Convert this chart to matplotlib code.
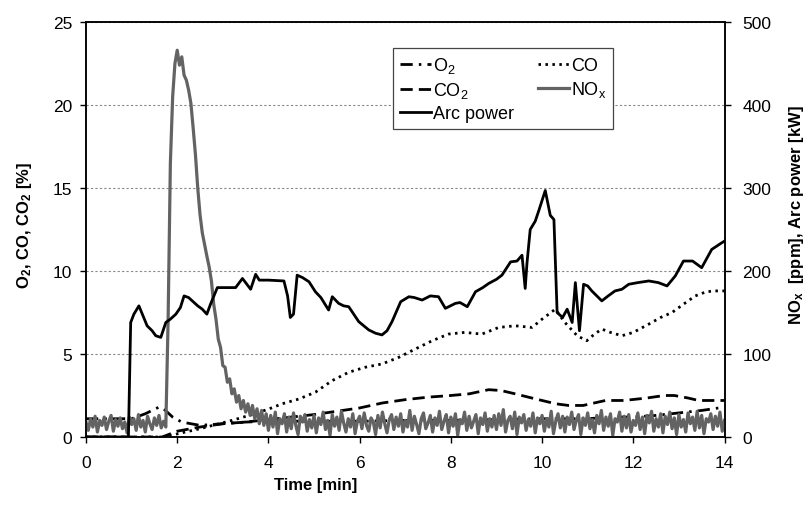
import matplotlib
matplotlib.use('Agg')
import matplotlib.pyplot as plt
import numpy as np

plt.rcParams['font.family'] = ['Liberation Sans', 'DejaVu Sans']
plt.rcParams['mathtext.fontset'] = 'custom'
plt.rcParams['mathtext.rm'] = 'Liberation Sans'
plt.rcParams['mathtext.bf'] = 'Liberation Sans:bold'
plt.rcParams['mathtext.default'] = 'rm'

# --- data ---
# O2, CO, CO2 in % (left axis)
o2_t = [0.0, 0.5, 1.0, 1.3, 1.6, 1.7, 1.9, 2.1, 2.5, 3.0, 3.5, 4.0, 5.0, 6.0,
        7.0, 8.0, 9.0, 10.0, 10.5, 11.0, 11.5, 12.0, 12.5, 13.0, 13.5, 14.0]
o2 = [1.1, 1.1, 1.1, 1.4, 1.8, 1.7, 1.2, 0.9, 0.7, 0.8, 0.9, 0.95, 0.95, 0.95,
      1.0, 1.0, 1.05, 1.1, 1.1, 1.1, 1.2, 1.2, 1.3, 1.45, 1.6, 1.8]

co2_t = [0.0, 1.67, 2.0, 2.5, 3.0, 3.5, 4.0, 4.5, 5.0, 5.5, 6.0, 6.5, 7.0, 7.5,
         8.0, 8.4, 8.83, 9.1, 9.41, 9.7, 10.0, 10.3, 10.58, 10.9, 11.39, 11.8,
         12.3, 12.68, 12.9, 13.2, 13.43, 14.0]
co2 = [0.0, 0.0, 0.35, 0.6, 0.8, 0.9, 1.05, 1.2, 1.35, 1.55, 1.75, 2.05, 2.25, 2.4,
       2.5, 2.6, 2.85, 2.8, 2.6, 2.4, 2.2, 2.0, 1.9, 1.9, 2.2, 2.2,
       2.35, 2.5, 2.5, 2.35, 2.2, 2.2]

co_t = [0.0, 1.7, 2.5, 3.2, 3.7, 4.01, 4.3, 4.67, 5.03, 5.4, 5.76, 6.12, 6.49, 6.86,
        7.22, 7.59, 7.95, 8.3, 8.68, 9.05, 9.41, 9.78, 10.0, 10.29, 10.5, 10.77,
        10.98, 11.15, 11.31, 11.5, 11.75, 12.0, 12.34, 12.6, 12.85, 13.1, 13.36,
        13.6, 13.8, 14.0]
co = [0.0, 0.0, 0.5, 1.0, 1.4, 1.69, 2.0, 2.29, 2.7, 3.4, 3.9, 4.2, 4.4, 4.8,
      5.3, 5.8, 6.2, 6.3, 6.2, 6.6, 6.7, 6.6, 7.1, 7.7, 6.9, 6.1,
      5.8, 6.2, 6.5, 6.3, 6.1, 6.3, 6.8, 7.2, 7.5, 8.0, 8.5,
      8.75, 8.8, 8.8]

# arc power in kW (right axis)
arc_t = [0.00, 0.93, 0.98, 1.05, 1.16, 1.25, 1.34, 1.45, 1.53, 1.64,
         1.75, 1.85, 1.97, 2.07, 2.15, 2.25, 2.33, 2.45, 2.55, 2.65,
         2.73, 2.88, 3.10, 3.28, 3.43, 3.50, 3.61, 3.72, 3.80, 4.00,
         4.34, 4.42, 4.48, 4.55, 4.63, 4.75, 4.89, 5.03, 5.15, 5.32,
         5.40, 5.54, 5.65, 5.76, 5.98, 6.20, 6.35, 6.49, 6.60, 6.71,
         6.90, 7.08, 7.20, 7.37, 7.55, 7.73, 7.88, 8.10, 8.20, 8.36,
         8.54, 8.70, 8.83, 9.00, 9.12, 9.31, 9.45, 9.56, 9.63, 9.67,
         9.74, 9.85, 9.93, 10.07, 10.18, 10.26, 10.33, 10.45, 10.55, 10.66,
         10.73, 10.82, 10.91, 11.00, 11.09, 11.20, 11.31, 11.45, 11.60, 11.75,
         11.90, 12.10, 12.34, 12.55, 12.74, 12.92, 13.10, 13.30, 13.50, 13.72,
         13.94, 14.00]
arc_kw = [0, 0, 138, 148, 158, 146, 134, 128, 122, 120,
          138, 142, 148, 156, 170, 168, 164, 158, 154, 148,
          160, 180, 180, 180, 191, 186, 178, 196, 189, 189,
          188, 170, 144, 148, 195, 192, 187, 175, 168, 153,
          169, 161, 158, 157, 139, 129, 125, 123, 128, 139,
          163, 169, 168, 165, 170, 169, 155, 161, 162, 157,
          175, 180, 185, 190, 195, 211, 212, 219, 179, 210,
          250, 260, 273, 297, 267, 262, 150, 144, 154, 138,
          186, 128, 184, 182, 176, 170, 164, 170, 176, 178,
          184, 186, 188, 186, 182, 194, 212, 212, 204, 226,
          234, 236]

# NOx in ppm, sampled every 0.05 min
nox_t = np.round(np.arange(281) * 0.05, 2)
nox = [18, 8, 22, 12, 25, 6, 20, 14, 24, 9,
       19, 26, 7, 21, 13, 23, 10, 18, 5, 24,
       15, 22, 8, 27, 12, 20, 6, 25, 16, 9,
       23, 14, 26, 11, 19,
       12, 140, 330, 410, 450, 466, 448, 458, 436, 430,
       418, 402, 372, 340, 300, 268, 246, 232, 218, 205,
       188, 160, 142, 118, 108, 86, 84, 66, 70, 52,
       58, 42, 50, 34, 44, 30, 40, 26, 38, 22,
       34, 16, 32, 14, 28,
       8, 26, 12, 30, 4, 22, 16, 28, 6, 24, 10, 29, 14, 3, 25, 18, 27, 7, 21, 11,
       26, 5, 23, 15, 30, 9, 20, 2, 27, 13, 24, 8, 31, 17, 6, 22, 12, 28, 4, 19,
       25, 10, 29, 14, 7, 23, 18, 3, 26, 11, 30, 16, 5, 21, 27, 9, 24, 13, 28, 6,
       20, 12, 32, 8, 25, 15, 4, 22, 29, 10, 17, 26, 6, 23, 14, 31, 9, 19, 27, 5,
       24, 13, 28, 2, 21, 16, 30, 8, 25, 11, 19, 27, 4, 23, 15, 29, 7, 22, 12, 26,
       9, 28, 14, 33, 6, 20, 25, 10, 30, 3, 24, 17, 27, 8, 21, 13, 29, 5, 23, 16,
       26, 7, 22, 12, 31, 4, 19, 28, 11, 25, 6, 24, 15, 30, 9, 20, 27, 3, 23, 14,
       29, 10, 21, 5, 26, 16, 32, 8, 24, 13, 28, 2, 22, 18, 30, 7, 25, 11, 27, 6,
       20, 14, 29, 9, 24, 4, 26, 17, 31, 7, 22, 12, 28, 5, 25, 15, 30, 10, 23, 3,
       27, 12, 21, 6, 29, 16, 24, 8, 31, 11, 26, 4, 22, 18, 28, 9, 25, 13, 30, 7,
       20]

x_ticks = [0, 2, 4, 6, 8, 10, 12, 14]
left_ticks = [0, 5, 10, 15, 20, 25]
right_ticks = [0, 100, 200, 300, 400, 500]

# --- figure ---
W, H = 807, 506
fig = plt.figure(figsize=(W / 100, H / 100), dpi=100)
ax = fig.add_axes([86 / W, (H - 438) / H, (724.5 - 86) / W, (438 - 23) / H])
ax2 = ax.twinx()

lw = 2.0
l_o2, = ax.plot(o2_t, o2, color='black', lw=lw, linestyle=(0, (4.4, 2.2, 0.9, 2.2)),
                label=r'O$_2$')
l_co2, = ax.plot(co2_t, co2, color='black', lw=lw, linestyle=(0, (4.4, 2.2)),
                 label=r'CO$_2$')
l_co, = ax.plot(co_t, co, color='black', lw=lw, linestyle=(0, (0.9, 1.6)),
                label='CO')

l_nox, = ax2.plot(nox_t, nox, color='#636363', lw=2.3, label=r'NO$_x$')
l_arc, = ax2.plot(arc_t, arc_kw, color='black', lw=2.0, label='Arc power')

ax.set_xlim(0, 14)
ax.set_ylim(0, 25)
ax2.set_ylim(0, 500)
ax.set_xticks(x_ticks)
ax.set_yticks(left_ticks)
ax2.set_yticks(right_ticks)

ax.yaxis.grid(True, linestyle=(0, (2, 2)), color='#888888', lw=0.8)

for a in (ax, ax2):
    a.tick_params(direction='out', length=4, width=1, labelsize=12.5, pad=6)
    for s in a.spines.values():
        s.set_linewidth(1.1)
ax.tick_params(axis='x', pad=9)
ax2.tick_params(axis='y', pad=9)

ax.set_xlabel('Time [min]', fontsize=12, fontweight='bold', va='center')
ax.xaxis.set_label_coords(0.359, -0.115)
ax.set_ylabel(r'O$_\mathbf{2}$, CO, CO$_\mathbf{2}$ [%]', fontsize=12, fontweight='bold',
              va='center', ha='center')
ax.yaxis.set_label_coords(-0.097, 0.513)
ax2.set_ylabel(r'NO$_\mathbf{x}$  [ppm], Arc power [kW]', fontsize=12, fontweight='bold',
               rotation=90, va='center', ha='center')
ax2.yaxis.set_label_coords(1.112, 0.537)

handles = [l_o2, l_co2, l_arc, l_co, l_nox]
leg = ax2.legend(handles=handles, loc='upper left', bbox_to_anchor=(0.481, 0.937),
                 borderaxespad=0, ncol=2, fontsize=13, handlelength=1.7,
                 handletextpad=0.15, columnspacing=1.3, labelspacing=0.28,
                 borderpad=0.38, fancybox=False, framealpha=1, edgecolor='#444444')
leg.get_frame().set_linewidth(0.9)

fig.savefig('out.png', dpi=100)
